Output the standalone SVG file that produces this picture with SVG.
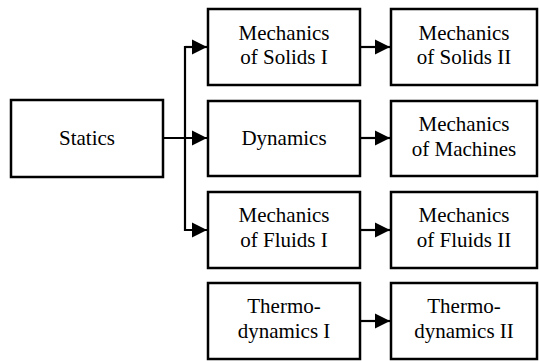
<svg xmlns="http://www.w3.org/2000/svg" width="539" height="361" viewBox="0 0 539 361">
<style>
.box{fill:#fff;stroke:#000;stroke-width:2.5}
.t{font-family:'Liberation Serif','Times New Roman',serif;font-size:21px;fill:#000;text-anchor:middle}
.c{fill:none;stroke:#000;stroke-width:2.2}
</style>
<defs>
<marker id="ah" markerUnits="userSpaceOnUse" markerWidth="16" markerHeight="16" viewBox="0 0 16 16" refX="15" refY="8" orient="auto">
<path d="M0,0.5 L15,8 L0,15.5 Z" fill="#000"/>
</marker>
</defs>
<rect width="539" height="361" fill="#fff"/>
<g id="connectors">
<path class="c" d="M163,138 H207" marker-end="url(#ah)"/>
<path class="c" d="M207,47 H185 V230 H207" marker-end="url(#ah)"/>
<path class="c" d="M185,47 H207" marker-end="url(#ah)"/>
<path class="c" d="M360,47 H390" marker-end="url(#ah)"/>
<path class="c" d="M360,138 H390" marker-end="url(#ah)"/>
<path class="c" d="M360,230 H390" marker-end="url(#ah)"/>
<path class="c" d="M360,321 H390" marker-end="url(#ah)"/>
</g>
<g id="statics"><rect class="box" x="11" y="100" width="152" height="77"/><text class="t" x="87" y="145">Statics</text></g>
<g id="mos1"><rect class="box" x="208" y="9" width="152" height="76"/><text class="t" x="284" y="39.5">Mechanics</text><text class="t" x="284" y="64">of Solids I</text></g>
<g id="mos2"><rect class="box" x="391" y="9" width="146" height="76"/><text class="t" x="464" y="39.5">Mechanics</text><text class="t" x="464" y="64">of Solids II</text></g>
<g id="dyn"><rect class="box" x="208" y="101" width="152" height="75"/><text class="t" x="284" y="145">Dynamics</text></g>
<g id="mom"><rect class="box" x="391" y="101" width="146" height="75"/><text class="t" x="464" y="131">Mechanics</text><text class="t" x="464" y="155.5">of Machines</text></g>
<g id="mof1"><rect class="box" x="208" y="192" width="152" height="76"/><text class="t" x="284" y="222">Mechanics</text><text class="t" x="284" y="246.5">of Fluids I</text></g>
<g id="mof2"><rect class="box" x="391" y="192" width="146" height="76"/><text class="t" x="464" y="222">Mechanics</text><text class="t" x="464" y="246.5">of Fluids II</text></g>
<g id="td1"><rect class="box" x="208" y="283" width="152" height="76"/><text class="t" x="284" y="313">Thermo-</text><text class="t" x="284" y="338">dynamics I</text></g>
<g id="td2"><rect class="box" x="391" y="283" width="146" height="76"/><text class="t" x="464" y="313">Thermo-</text><text class="t" x="464" y="338">dynamics II</text></g>
</svg>
